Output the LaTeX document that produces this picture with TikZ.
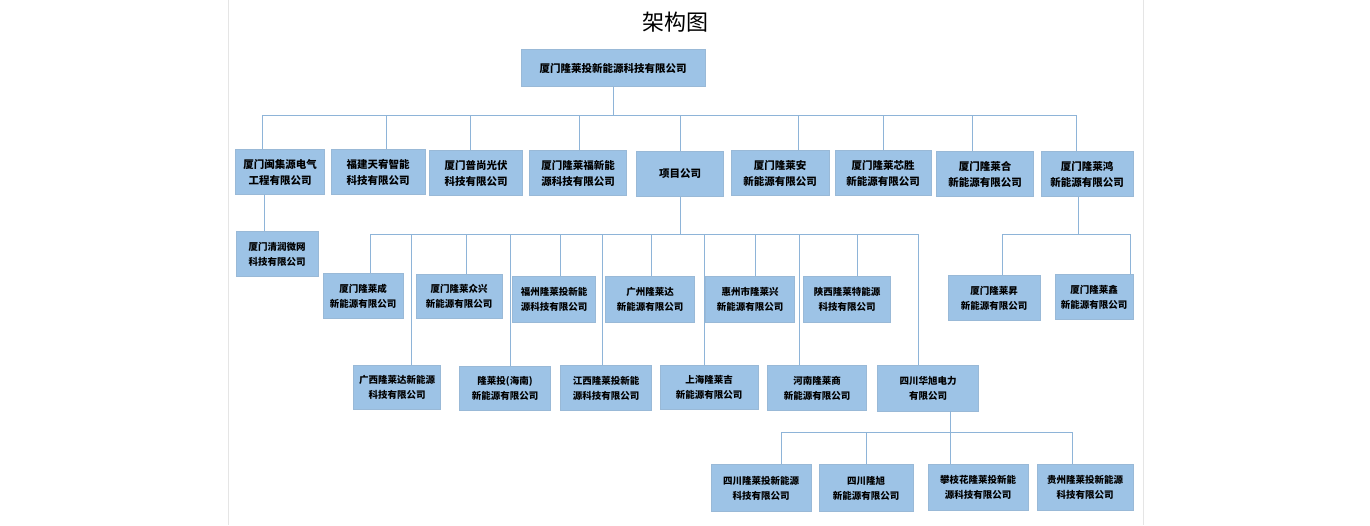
\documentclass[tikz,border=0pt]{standalone}
\usepackage{fontspec}
\newfontfamily\cjk{Noto Sans CJK SC}
\begin{document}
\begin{tikzpicture}[x=1pt,y=-1pt,
  bx/.style={fill=boxc,draw=boxc!85!gray,line width=0.4pt,inner sep=1pt,align=center,font=\cjk\fontsize{10.5}{16}\selectfont\bfseries},
  sm/.style={bx,font=\cjk\fontsize{9.5}{15}\selectfont\bfseries},
  ln/.style={draw=linec,line width=0.9pt}]
\definecolor{boxc}{HTML}{9DC3E6}
\definecolor{linec}{HTML}{8EB4D8}
\useasboundingbox (0,0) rectangle (1370,525);
\draw[gray!20] (228,0) -- (228,525) (1143,0) -- (1143,525);
\node[font=\cjk\fontsize{22}{24}\selectfont] (title) at (675,22) {架构图};
\newcommand\bxat[6]{\node[#1,minimum width=#4,minimum height=#5] (#6) at (#2,#3)}
\bxat{bx}{613}{68}{184}{37}{top} {厦门隆莱投新能源科技有限公司};
% row 1
\bxat{bx}{280}{172}{89}{45}{a1} {厦门闽集源电气\\工程有限公司};
\bxat{bx}{378}{172}{94}{45}{a2} {福建天宥智能\\科技有限公司};
\bxat{bx}{476}{173}{93}{45}{a3} {厦门普尚光伏\\科技有限公司};
\bxat{bx}{578}{173}{97}{45}{a4} {厦门隆莱福新能\\源科技有限公司};
\bxat{bx}{680}{174}{87}{45}{a5} {项目公司};
\bxat{bx}{780}{173}{98}{45}{a6} {厦门隆莱安\\新能源有限公司};
\bxat{bx}{883}{173}{96}{45}{a7} {厦门隆莱芯胜\\新能源有限公司};
\bxat{bx}{985}{174}{97}{45}{a8} {厦门隆莱合\\新能源有限公司};
\bxat{bx}{1087}{174}{92}{45}{a9} {厦门隆莱鸿\\新能源有限公司};
\coordinate (b1) at (0,115);
\draw[ln] (top.south) -- (top.south|-b1);
\draw[ln] (262,115) -- (1076,115);
\foreach \n/\dx in {a1/-18,a2/8,a3/-6,a4/1,a5/0,a6/18,a7/0,a8/-13,a9/-11}
  \draw[ln] ([xshift=\dx]\n.north|-b1) -- ([xshift=\dx]\n.north);
% a1 child
\bxat{sm}{277}{254}{82}{45}{c1} {厦门清润微网\\科技有限公司};
\draw[ln] ([xshift=-16]a1.south) -- ([xshift=-13]c1.north);
% project bus
\coordinate (b2) at (0,234);
\draw[ln] (a5.south) -- (a5.south|-b2);
\draw[ln] (370,234) -- (918,234);
\bxat{sm}{363}{296}{80}{45}{r1} {厦门隆莱成\\新能源有限公司};
\bxat{sm}{459}{296}{86}{44}{r2} {厦门隆莱众兴\\新能源有限公司};
\bxat{sm}{554}{299}{83}{46}{r3} {福州隆莱投新能\\源科技有限公司};
\bxat{sm}{650}{299}{89}{46}{r4} {广州隆莱达\\新能源有限公司};
\bxat{sm}{750}{299}{89}{46}{r5} {惠州市隆莱兴\\新能源有限公司};
\bxat{sm}{847}{299}{87}{46}{r6} {陕西隆莱特能源\\科技有限公司};
\foreach \n/\dx in {r1/7,r2/7,r3/6,r4/1,r5/5,r6/10}
  \draw[ln] ([xshift=\dx]\n.north|-b2) -- ([xshift=\dx]\n.north);
\bxat{sm}{397}{387}{87}{44}{s1} {广西隆莱达新能源\\科技有限公司};
\bxat{sm}{505}{388}{91}{44}{s2} {隆莱投(海南)\\新能源有限公司};
\bxat{sm}{606}{388}{91}{45}{s3} {江西隆莱投新能\\源科技有限公司};
\bxat{sm}{709}{387}{98}{44}{s4} {上海隆莱吉\\新能源有限公司};
\bxat{sm}{817}{388}{99}{45}{s5} {河南隆莱商\\新能源有限公司};
\bxat{sm}{928}{388}{101}{46}{s6} {四川华旭电力\\有限公司};
\foreach \n/\dx in {s1/14,s2/5,s3/-4,s4/-5,s5/-18,s6/-10}
  \draw[ln] ([xshift=\dx]\n.north|-b2) -- ([xshift=\dx]\n.north);
% sichuan
\coordinate (b3) at (0,432);
\draw[ln] ([xshift=22]s6.south) -- ([xshift=22]s6.south|-b3);
\draw[ln] (781,432) -- (1072,432);
\bxat{sm}{761}{488}{100}{47}{t1} {四川隆莱投新能源\\科技有限公司};
\bxat{sm}{866}{488}{94}{47}{t2} {四川隆旭\\新能源有限公司};
\bxat{sm}{978}{487}{100}{46}{t3} {攀枝花隆莱投新能\\源科技有限公司};
\bxat{sm}{1085}{487}{96}{46}{t4} {贵州隆莱投新能源\\科技有限公司};
\foreach \n/\dx in {t1/20,t2/0,t3/-28,t4/-13}
  \draw[ln] ([xshift=\dx]\n.north|-b3) -- ([xshift=\dx]\n.north);
% hong
\coordinate (b4) at (0,234);
\draw[ln] ([xshift=-9]a9.south) -- ([xshift=-9]a9.south|-b4);
\draw[ln] (1002,234) -- (1130,234);
\bxat{sm}{994}{298}{92}{45}{h1} {厦门隆莱昇\\新能源有限公司};
\bxat{sm}{1094}{297}{78}{45}{h2} {厦门隆莱鑫\\新能源有限公司};
\draw[ln] ([xshift=8]h1.north|-b4) -- ([xshift=8]h1.north);
\draw[ln] ([xshift=36]h2.north|-b4) -- ([xshift=36]h2.north);
\end{tikzpicture}
\end{document}
